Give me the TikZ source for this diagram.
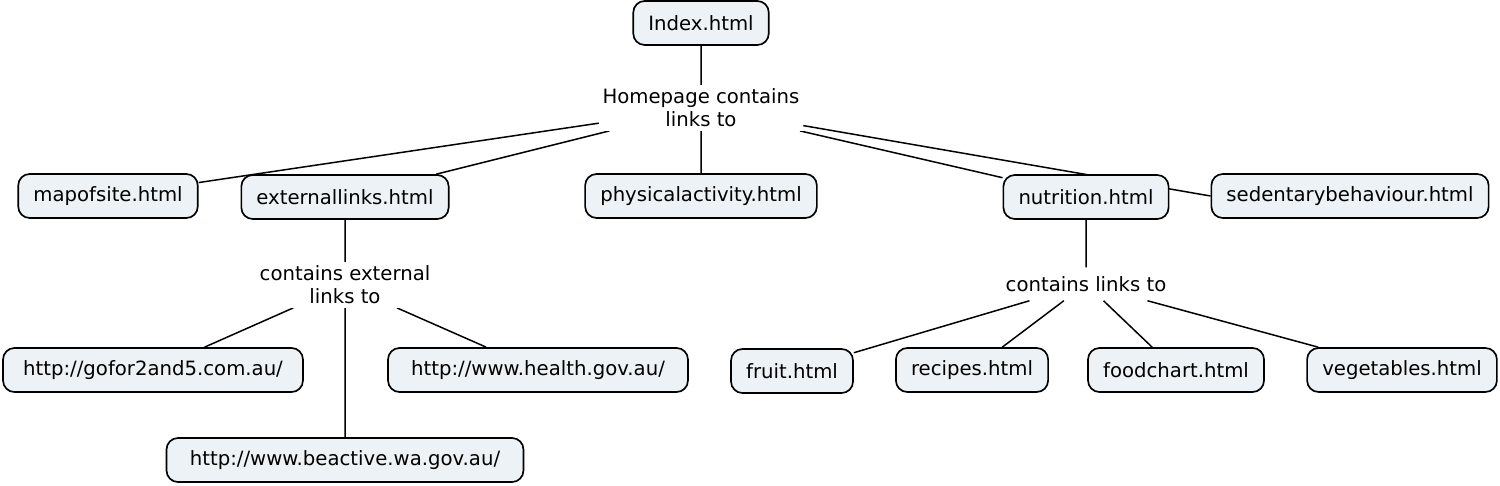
\documentclass[tikz,border=0pt]{standalone}
\usepackage{fontspec}
\setmainfont{DejaVu Sans}
\usepackage{tikz}
\usetikzlibrary{backgrounds}
\definecolor{pageFill}{RGB}{236,242,245}

\begin{document}
\begin{tikzpicture}[x=0.02cm,y=-0.02cm,
          pg/.style={rectangle,rounded corners=6.5pt,draw=black,fill=pageFill,
                     line width=0.95pt,minimum height=0.88cm,inner xsep=8.6pt,
                     font=\fontsize{11.2pt}{13pt}\selectfont},
          lk/.style={fill=white,align=center,inner sep=2pt,
                     font=\fontsize{11.2pt}{13pt}\selectfont}]
          \useasboundingbox (0,0) rectangle (1500,486);
          % pages
          \node[pg](index) at (701,23){Index.html};
          \node[pg](map) at (108,196){mapofsite.html};
          \node[pg](ext) at (345,197){externallinks.html};
          \node[pg](phys) at (701,196){physicalactivity.html};
          \node[pg](nut) at (1086,197){nutrition.html};
          \node[pg](sed) at (1350,196){sedentarybehaviour.html};
          \node[pg,minimum width=6cm](gofor) at (153,370){http://gofor2and5.com.au/};
          \node[pg,minimum width=6cm](health) at (538,370){http://www.health.gov.au/};
          \node[pg,minimum width=7.14cm](bea) at (345,460){http://www.beactive.wa.gov.au/};
          \node[pg](fruit) at (792,371){fruit.html};
          \node[pg](rec) at (972,370){recipes.html};
          \node[pg](food) at (1176,370){foodchart.html};
          \node[pg](veg) at (1402,370){vegetables.html};
          % linking phrases
          \node[lk](hp) at (701,108){Homepage contains\\links to};
          \node[lk](cel) at (345,285){contains external\\links to};
          \node[lk,inner ysep=5pt](cl) at (1086,284){contains links to};
          \begin{scope}[on background layer]
            \draw[line width=0.85pt]
              (index)--(hp) (hp)--(map) (hp)--(ext) (hp)--(phys)
              (hp)--(nut) (hp)--(sed.west)
              (ext)--(cel) (cel)--(gofor) (cel)--(health) (cel)--(bea)
              (nut)--(cl) (cl)--(fruit) (cl)--(rec) (cl)--(food) (cl)--(veg);
          \end{scope}
        \end{tikzpicture}
\end{document}
